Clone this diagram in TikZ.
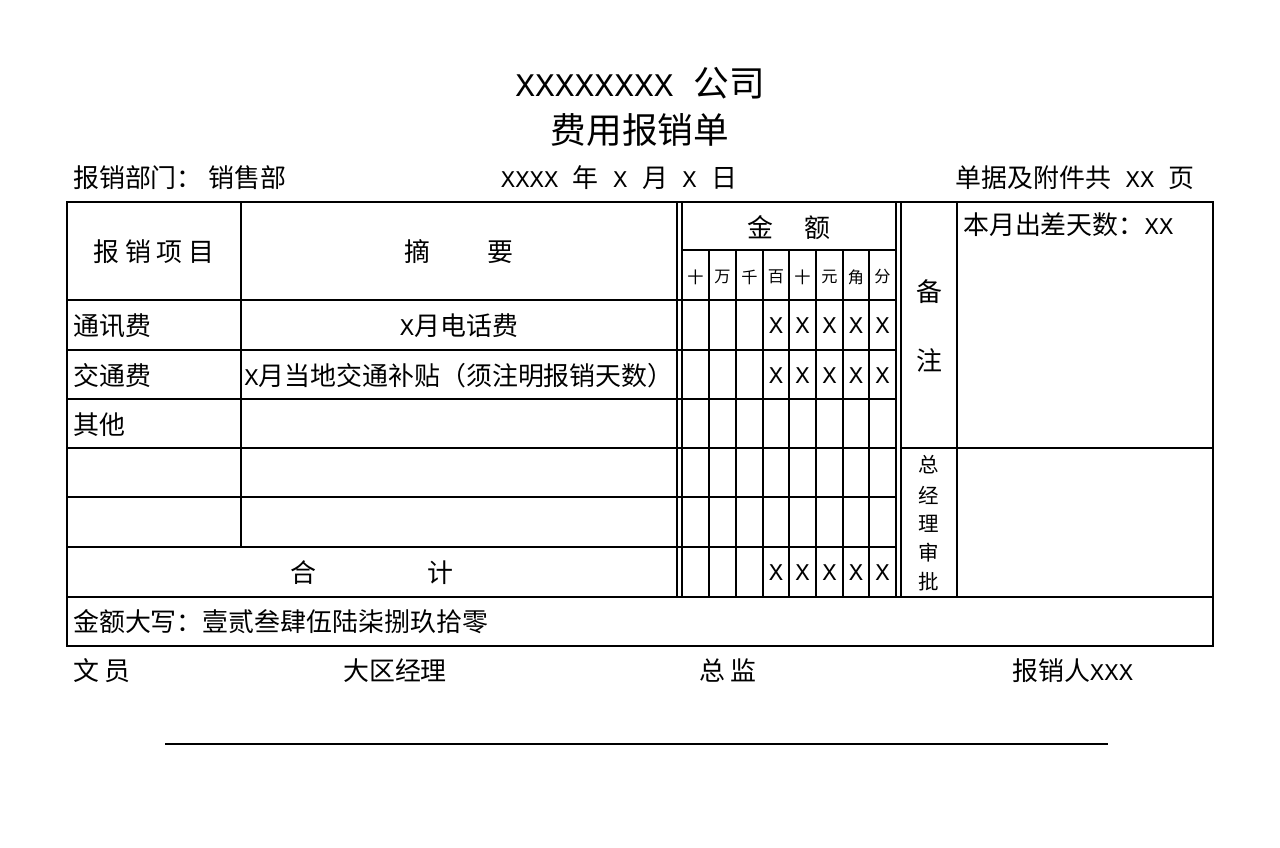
\documentclass[tikz,border=0pt]{standalone}
\usepackage{fontspec}
\setmainfont{Liberation Mono}
\newfontfamily\cjk{Noto Sans CJK SC}[Scale=1.08]
\begin{document}
\begin{tikzpicture}[x=1pt,y=-1pt,
  ln/.style={line width=2pt},
  tx/.style={inner sep=0pt,font=\fontsize{24}{24}\selectfont},
  cj/.style={inner sep=0pt,font=\fontsize{24}{24}\selectfont\cjk},
  sm/.style={inner sep=0pt,font=\fontsize{15}{15}\selectfont\cjk},
  ttl/.style={inner sep=0pt,font=\fontsize{33}{33}\selectfont}]
\useasboundingbox (0,0) rectangle (1280,848);
% titles
\node[ttl] (t1) at (640,83) {XXXXXXXX {\cjk 公司}};
\node[ttl,font=\fontsize{33}{33}\selectfont\cjk] (t2) at (640,130) {费用报销单};
\node[cj,anchor=west] (h1) at (73,178) {报销部门：\ 销售部};
\node[tx] (h2) at (619,178) {XXXX {\cjk 年} X {\cjk 月} X {\cjk 日}};
\node[tx,anchor=east] (h3) at (1195,178) {{\cjk 单据及附件共} XX {\cjk 页}};
% grid
\draw[ln] (67,202) rectangle (1213,646);
\foreach \y in {300,350,399,448,497}{\draw[ln] (67,\y) -- (896,\y);}
\draw[ln] (67,547) -- (896,547);
\draw[ln] (67,597) -- (1213,597);
\draw[ln] (900,448) -- (1213,448);
\draw[ln] (241,202) -- (241,547);
\draw[ln] (677,202) -- (677,597);
\draw[ln] (682,202) -- (682,597);
\draw[ln] (896,202) -- (896,597);
\draw[ln] (901,202) -- (901,597);
\draw[ln] (957,202) -- (957,597);
\draw[ln] (682,250) -- (896,250);
\foreach \x in {709,736,763,789,816,843,869}{\draw[ln] (\x,250) -- (\x,597);}
% headers
\node[cj] (c1) at (154,252) {报\ 销\ 项\ 目};
\node[cj] (c2) at (459,252) {摘\hspace{2.2em}要};
\node[cj] (c3) at (789,228) {金\hspace{1.2em}额};
\foreach \x/\t in {695.5/十,722.5/万,749.5/千,776/百,802.5/十,829.5/元,856/角,882.5/分}{\node[sm] at (\x,277) {\t};}
\node[cj] (bz1) at (929,292) {备};
\node[cj] (bz2) at (929,360) {注};
\node[tx,anchor=north west] (r0) at (963,212) {{\cjk 本月出差天数：}XX};
\foreach \y/\t in {465/总,495/经,524/理,553/审,582/批}{\node[inner sep=0pt,font=\fontsize{19}{19}\selectfont\cjk] at (929,\y) {\t};}
% rows
\node[cj,anchor=west] (a1) at (73,326) {通讯费};
\node[cj,anchor=west] (a2) at (73,376) {交通费};
\node[cj,anchor=west] (a3) at (73,425) {其他};
\node[tx] (b1) at (459,326) {X{\cjk 月电话费}};
\begin{scope}
\clip (242,350) rectangle (676,399);
\node[tx] (b2) at (459,376) {X{\cjk 月当地交通补贴（须注明报销天数）}};
\end{scope}
\node[cj] (hj) at (372,573) {合\hspace{4.3em}计};
\foreach \y in {326,376,573}{\foreach \x in {776,802.5,829.5,856,882.5}{\node[tx] at (\x,\y) {X};}}
\node[cj,anchor=west] (dx) at (73,622) {金额大写：壹贰叁肆伍陆柒捌玖拾零};
% footer
\node[cj,anchor=west] (f1) at (73,671) {文\ 员};
\node[cj,anchor=west] (f2) at (343,671) {大区经理};
\node[cj,anchor=west] (f3) at (699,671) {总\ 监};
\node[tx,anchor=west] (f4) at (1012,671) {{\cjk 报销人}XXX};
\coordinate (l1) at (165,744); \coordinate (l2) at (1108,744);
\draw[line width=1.5pt] (l1) -- (l2);
\end{tikzpicture}
\end{document}
